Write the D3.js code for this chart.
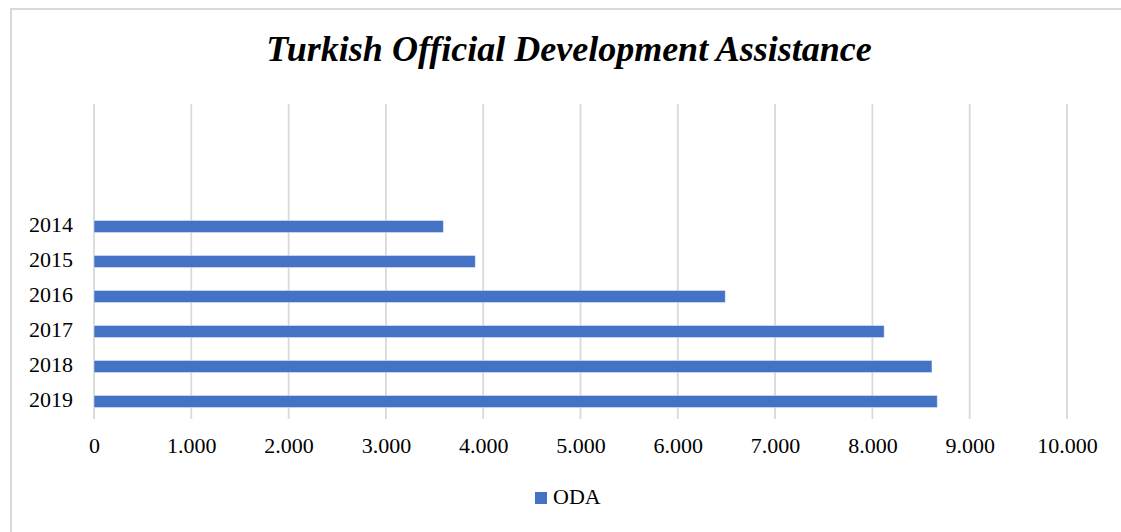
<!DOCTYPE html>
<html>
<head>
<meta charset="utf-8">
<script src="https://cdn.jsdelivr.net/npm/d3@7"></script>
<style>
  html, body { margin: 0; padding: 0; background: #fff; }
  svg { display: block; }
</style>
</head>
<body>
<svg id="chart" width="1121" height="532"></svg>
<script>
// ---- data ----
const title = "Turkish Official Development Assistance";
const seriesName = "ODA";
const years = ["2014", "2015", "2016", "2017", "2018", "2019"];
const odaValues = [3591, 3919, 6488, 8121, 8612, 8667];
const xTicks = [0, 1000, 2000, 3000, 4000, 5000, 6000, 7000, 8000, 9000, 10000];
const xTickLabels = ["0", "1.000", "2.000", "3.000", "4.000", "5.000", "6.000", "7.000", "8.000", "9.000", "10.000"];
const emptySlots = 3; // unused category slots above the bars in the original axis

// ---- layout ----
const W = 1121, H = 532;
const plot = { left: 94, right: 1067, top: 104, bottom: 419 };
const font = "'Liberation Serif', 'Times New Roman', serif";
const barColor = "#4472C4";
const gridColor = "#d9d9d9";

const svg = d3.select("#chart");
svg.append("rect").attr("width", W).attr("height", H).attr("fill", "#fff");

// chart frame
svg.append("rect")
  .attr("x", 11).attr("y", 9)
  .attr("width", W + 20).attr("height", H + 20)
  .attr("fill", "none").attr("stroke", gridColor).attr("stroke-width", 2);

// scales
const x = d3.scaleLinear().domain([0, 10000]).range([plot.left, plot.right]);
const step = (plot.bottom - plot.top) / (years.length + emptySlots);
const y = d3.scaleBand()
  .domain(years)
  .range([plot.top + emptySlots * step, plot.bottom])
  .paddingInner(0.655)
  .paddingOuter(0.3275);

// gridlines
svg.append("g").selectAll("line").data(xTicks).join("line")
  .attr("x1", d => x(d)).attr("x2", d => x(d))
  .attr("y1", plot.top).attr("y2", plot.bottom)
  .attr("stroke", gridColor).attr("stroke-width", 1.8);

// bars
const data = years.map((yr, i) => ({ year: yr, value: odaValues[i] }));
svg.append("g").selectAll("rect").data(data).join("rect")
  .attr("x", x(0))
  .attr("y", d => y(d.year))
  .attr("width", d => x(d.value) - x(0))
  .attr("height", y.bandwidth())
  .attr("fill", barColor)
  .attr("stroke", "#ffffff").attr("stroke-opacity", 0.45).attr("stroke-width", 1);

// y axis labels
const yAxis = d3.axisLeft(y).tickSize(0).tickPadding(0);
const yg = svg.append("g").attr("transform", `translate(${plot.left - 21},0)`).call(yAxis);
yg.select(".domain").remove();
yg.selectAll("text")
  .attr("font-family", font).attr("font-size", 22).attr("fill", "#000")
  .attr("dy", "0.26em");

// x axis labels
const xAxis = d3.axisBottom(x).tickValues(xTicks)
  .tickFormat((d, i) => xTickLabels[i]).tickSize(0).tickPadding(0);
const xg = svg.append("g").attr("transform", `translate(0,${453})`).call(xAxis);
xg.select(".domain").remove();
xg.selectAll("text")
  .attr("font-family", font).attr("font-size", 22).attr("fill", "#000")
  .attr("dy", 0).attr("y", 0);

// title
svg.append("text")
  .attr("x", 569).attr("y", 61)
  .attr("text-anchor", "middle")
  .attr("font-family", font).attr("font-size", 36)
  .attr("font-style", "italic").attr("font-weight", "bold")
  .attr("fill", "#000")
  .text(title);

// legend
const lg = svg.append("g").attr("transform", "translate(535,492)");
lg.append("rect").attr("width", 12).attr("height", 12).attr("fill", barColor);
lg.append("text").attr("x", 18).attr("y", 12)
  .attr("font-family", font).attr("font-size", 22).attr("fill", "#000")
  .text(seriesName);
</script>
</body>
</html>
